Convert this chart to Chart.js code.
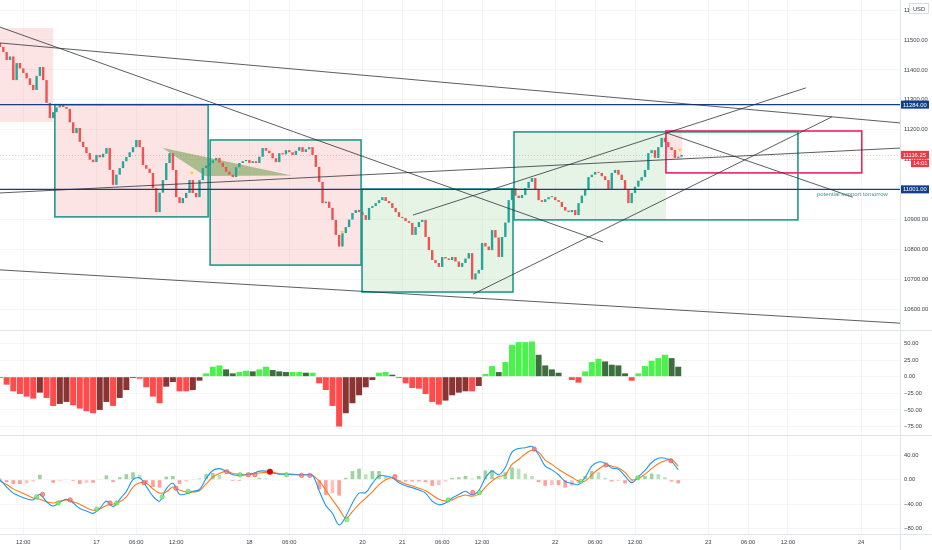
<!DOCTYPE html>
<html lang="en">
  <head>
    <meta charset="UTF-8" />
    <title>NQ 30m</title>
    <script src="https://cdn.jsdelivr.net/npm/chart.js@4.4.1/dist/chart.umd.min.js"></script>
    <style>
      html, body { margin: 0; padding: 0; background: #fff; }
      #wrap { position: relative; width: 932px; height: 550px; overflow: hidden; }
      .pane { position: absolute; left: 0; width: 932px; }
    </style>
  </head>
  <body>
    <div id="wrap">
      <div class="pane" style="top:0;height:331px"><canvas id="priceChart"></canvas></div>
      <div class="pane" style="top:331px;height:105px"><canvas id="momChart"></canvas></div>
      <div class="pane" style="top:436px;height:114px"><canvas id="macdChart"></canvas></div>
    </div>

    <script>
      // time axis: one slot per 30 min candle
      const tickIdx = [7, 29, 41, 53, 75, 87, 109, 121, 133, 145, 167, 179, 191, 213, 225, 237, 259];
      const tickLbl = ["12:00", "17", "06:00", "12:00", "18", "06:00", "20", "21", "06:00", "12:00", "22", "06:00", "12:00", "23", "06:00", "12:00", "24"];

      const priceTicks = [10600, 10700, 10800, 10900, 11000, 11100, 11200, 11300, 11400, 11500, 11600];
      const momTicks = [-75, -50, -25, 0, 25, 50];
      const macdTicks = [-80, -40, 0, 40];

      // candle closes (open = previous close)
      const firstOpen = 11490;
      const closes = [
        11477, 11460, 11433, 11445, 11366, 11423, 11405, 11390, 11372, 11350,
        11333, 11380, 11410, 11366, 11290, 11239, 11259, 11275, 11283, 11276,
        11270, 11225, 11189, 11206, 11160, 11142, 11122, 11100, 11092, 11116,
        11108, 11120, 11139, 11066, 11016, 11050, 11072, 11095, 11109, 11125,
        11142, 11166, 11142, 11082, 11070, 11056, 11005, 10925, 10990, 11032,
        11089, 11122, 11066, 10975, 10955, 10972, 10989, 11032, 10989, 10975,
        11032, 11072, 11080, 11089, 11098, 11106, 11090, 11076, 11060, 11050,
        11042, 11075, 11089, 11095, 11099, 11089, 11095, 11089, 11110, 11139,
        11130, 11122, 11105, 11092, 11122, 11118, 11132, 11125, 11116, 11130,
        11142, 11126, 11135, 11142, 11116, 11076, 11026, 10955, 10960, 10939,
        10899, 10849, 10810, 10855, 10875, 10900, 10922, 10932, 10925, 10915,
        10899, 10939, 10945, 10955, 10965, 10975, 10962, 10955, 10939, 10925,
        10909, 10905, 10895, 10889, 10849, 10875, 10892, 10899, 10842, 10798,
        10765, 10755, 10742, 10775, 10770, 10765, 10775, 10760, 10742, 10755,
        10770, 10788, 10700, 10720, 10732, 10822, 10810, 10798, 10865, 10840,
        10775, 10842, 10890, 10965, 11005, 10980, 10972, 10982, 11005, 11026,
        11039, 10999, 10965, 10959, 10968, 10975, 10975, 10965, 10959, 10942,
        10930, 10925, 10932, 10915, 10955, 10980, 10999, 11042, 11050, 11059,
        11056, 11045, 11032, 10999, 11056, 11066, 11050, 11032, 10999, 10955,
        10989, 11010, 11030, 11042, 11066, 11122, 11132, 11106, 11142, 11173,
        11159, 11142, 11132, 11106, 11110, 11116.25,
      ];
      const lastTime = "14:01";

      // small yellow signal markers on price
      const markX = [57.7, 102.9, 204.5];
      const markP = [11056, 10858, 11133];

      // shaded zones [from, to] in candle slots, [top, bottom] in price
      const zoneFrom = [-2, 16.5, 63.2, 108.9, 154.6, 200.3];
      const zoneTo = [16, 62.6, 108.6, 154.3, 200.3, 205.2];
      const zoneTop = [11540, 11284, 11166, 11002, 11193, 11196];
      const zoneBottom = [11226, 10909, 10748, 10658, 10899, 11099];
      const zoneKind = ["sell", "sell", "sell", "buy", "buy", "sell"];

      // outlined boxes
      const frameFrom = [16.5, 63.2, 108.9, 154.6, 200.3];
      const frameTo = [62.6, 108.6, 154.3, 240.0, 259.2];
      const frameTop = [11284, 11166, 11002, 11193, 11196];
      const frameBottom = [10909, 10748, 10658, 10899, 11056];
      const frameKind = ["range", "range", "range", "range", "target"];

      // trend lines
      const lineX1 = [0, 0, 0, 0, 124.2, 142.3, 200.6];
      const lineP1 = [11490, 11543, 10732, 10989, 10915, 10651, 11189];
      const lineX2 = [270.7, 181.4, 270.7, 270.7, 242.4, 250.2, 256.5];
      const lineP2 = [11223, 10825, 10554, 11139, 11340, 11243, 10975];

      // triangle pattern
      const triX = [48.8, 87.8, 61.7];
      const triP = [11140, 11047, 11046];

      const levels = [11284, 11001];
      const noteText = "potential support tomorrow";
      const noteX = 245.7;
      const noteP = 10985;

      // squeeze momentum, every 2nd candle
      const momX = Array.from({ length: 103 }, (_, k) => k * 2);
      const momVals = [
        -2, -12, -22, -26, -30, -33, -24, -32, -44, -41,
        -38, -43, -48, -52, -55, -50, -38, -44, -32, -20,
        -2, -3, -16, -30, -40, -15, -8, -22, -22, -20,
        -6, 5, 15, 17, 11, 5, 7, 9, 8, 11,
        15, 10, 8, 7, 7, 7, 6, 6, -10, -20,
        -44, -75, -55, -40, -28, -16, -5, 6, 7, 3,
        -2, -10, -17, -18, -26, -38, -42, -36, -28, -24,
        -22, -22, -14, 4, 16, 7, 22, 48, 52, 52,
        53, 33, 17, 11, 6, 0, -5, -9, 8, 22,
        27, 23, 18, 17, 5, -6, 5, 16, 24, 28,
        33, 28, 15,
      ];

      // MACD, every 2nd candle
      const macdLine = [
        0, -12, -22, -27, -31, -33, -24, -36, -43, -37,
        -32, -38, -47, -51, -55, -47, -35, -44, -32, -19,
        0, 3, -11, -27, -35, -15, -6, -24, -23, -19,
        -16, 2, 15, 18, 14, 8, 7, 8, 10, 14,
        14, 11, 9, 9, 8, 8, 8, 7, -18, -42,
        -55, -74, -60, -38, -22, -21, -6, 6, 6, 3,
        -5, -10, -13, -17, -22, -35, -41, -38, -30, -24,
        -19, -25, -18, 3, 14, 8, 20, 45, 51, 52,
        54, 41, 22, 16, 8, -3, -6, -8, 4, 22,
        29, 27, 19, 17, 6, -5, 5, 15, 28, 35,
        35, 30, 16,
      ];
      const signalLine = [
        -2, -8, -15, -20, -25, -30, -32, -36, -38, -35,
        -33, -36, -40, -46, -50, -48, -42, -40, -36, -28,
        -12, -5, -6, -15, -22, -20, -12, -17, -20, -20,
        -18, -7, 4, 10, 14, 10, 9, 8, 9, 11,
        12, 12, 10, 9, 9, 8, 8, 7, -2, -17,
        -33, -48, -63, -52, -40, -30, -20, -8, 0, 3,
        -2, -7, -10, -14, -18, -25, -32, -35, -33, -28,
        -25, -27, -24, -12, -2, 5, 8, 25, 33, 42,
        48, 45, 32, 25, 17, 10, 4, -2, -2, 8,
        17, 24, 22, 19, 12, 0, 2, 9, 18, 26,
        31, 33, 22,
      ];
      const macdHist = [
        2, -4, -7, -7, -6, -3, 8, 0, -5, -2,
        1, -2, -7, -5, -5, 1, 7, -4, 4, 9,
        12, 8, -5, -12, -13, 5, 6, -7, -3, 1,
        2, 9, 11, 8, 0, -2, -2, 0, 1, 3,
        2, -1, -1, 0, -1, 0, 0, 0, -16, -25,
        -22, -26, 3, 14, 18, 9, 14, 14, 6, 0,
        -3, -3, -3, -3, -4, -10, -9, -3, 3, 4,
        6, 2, 6, 15, 16, 3, 12, 20, 18, 10,
        6, -4, -10, -9, -9, -13, -10, -6, 6, 14,
        12, 3, -3, -2, -6, -5, 3, 6, 10, 9,
        4, -3, -6,
      ];
      // crossover dots
      const upX = [11.0, 17.5, 29.1, 35.1, 48.8, 56.6, 72.2, 86.2, 104.3, 134.8, 144.2, 174.7, 191.8];
      const upY = [-28, -38, -48, -38, -28, -19, 8, 8, -65, -33, -21, -3, 3];
      const dnX = [12.8, 21.1, 33.1, 43.3, 52.9, 68.2, 74.7, 76.7, 90.7, 93.2, 118.8, 142.2, 160.7, 182.3, 201.8];
      const dnY = [-24, -33, -38, -5, -14, 13, 8, 8, 7, 7, 5, -21, 50, 24, 31];
      const bigX = [81.2];
      const bigY = [13];

      // ---------- styling ----------
      const FONT = "'Liberation Sans', Arial, sans-serif";
      Chart.defaults.animation = false;
      Chart.defaults.font.family = FONT;
      Chart.defaults.font.size = 5.8;
      Chart.defaults.color = "#3a3e4a";
      Chart.defaults.plugins.legend.display = false;
      Chart.defaults.plugins.tooltip.enabled = false;
      Chart.defaults.layout.autoPadding = false;

      const UP = "#26a69a";
      const DOWN = "#ef5350";
      const GRID = "rgba(42,46,57,0.045)";
      const SEP = "#e0e3eb";
      const NAVY = "#123f8c";
      const X_MAX = 270.7;

      function fmt(v) {
        return (v < 0 ? "\u2212" : "") + Math.abs(v).toFixed(2);
      }

      function xAxis(showLabels) {
        return {
          type: "linear",
          min: 0,
          max: X_MAX,
          offset: false,
          grid: { color: GRID, drawTicks: false, offset: false },
          border: { display: false },
          ticks: {
            display: showLabels,
            autoSkip: false,
            maxRotation: 0,
            padding: 4,
            color: "#3a3e4a",
            callback: (v) => {
              const k = tickIdx.indexOf(v);
              return k < 0 ? "" : tickLbl[k];
            },
          },
          afterBuildTicks: (s) => {
            s.ticks = tickIdx.map((v) => ({ value: v }));
          },
          afterFit: (s) => {
            s.height = showLabels ? 15 : 0;
            s.paddingLeft = 0;
            s.paddingRight = 0;
          },
        };
      }

      function yAxis(min, max, ticks) {
        return {
          position: "right",
          min: min,
          max: max,
          grid: { color: GRID, drawTicks: false },
          border: { display: false },
          ticks: { padding: 4, callback: (v) => fmt(v) },
          afterBuildTicks: (s) => {
            s.ticks = ticks.map((v) => ({ value: v }));
          },
          afterFit: (s) => {
            s.width = 32;
            s.paddingTop = 0;
            s.paddingBottom = 0;
          },
        };
      }

      // pane borders
      const frameLines = {
        id: "frameLines",
        afterDraw(chart) {
          const { ctx, chartArea: a, width, height } = chart;
          ctx.save();
          ctx.strokeStyle = SEP;
          ctx.lineWidth = 1;
          ctx.beginPath();
          ctx.moveTo(0, Math.round(a.bottom) - 0.5);
          ctx.lineTo(width, Math.round(a.bottom) - 0.5);
          ctx.moveTo(Math.round(a.right) + 0.5, 0);
          ctx.lineTo(Math.round(a.right) + 0.5, height);
          ctx.stroke();
          ctx.restore();
        },
      };

      function tag(ctx, x, y, w, h, bg, text) {
        ctx.fillStyle = bg;
        ctx.fillRect(x, y - h / 2, w, h);
        ctx.fillStyle = "#fff";
        ctx.font = "5.8px " + FONT;
        ctx.textBaseline = "middle";
        ctx.textAlign = "left";
        ctx.fillText(text, x + 2, y + 0.5);
      }

      // chart drawings on the price pane
      const drawings = {
        id: "drawings",
        beforeDatasetsDraw(chart) {
          const { ctx, chartArea: a, scales } = chart;
          const x = scales.x, y = scales.y;
          ctx.save();
          ctx.beginPath();
          ctx.rect(a.left, a.top, a.width, a.height);
          ctx.clip();
          zoneFrom.forEach((f, k) => {
            const x1 = x.getPixelForValue(f);
            const x2 = x.getPixelForValue(zoneTo[k]);
            const y1 = y.getPixelForValue(zoneTop[k]);
            const y2 = y.getPixelForValue(zoneBottom[k]);
            ctx.fillStyle = zoneKind[k] === "buy" ? "rgba(76,175,80,0.14)" : "rgba(245,110,110,0.19)";
            ctx.fillRect(x1, y1, x2 - x1, y2 - y1);
          });
          // triangle
          ctx.beginPath();
          triX.forEach((t, k) => {
            const px = x.getPixelForValue(t);
            const py = y.getPixelForValue(triP[k]);
            if (k === 0) ctx.moveTo(px, py);
            else ctx.lineTo(px, py);
          });
          ctx.closePath();
          ctx.fillStyle = "rgba(90,150,60,0.5)";
          ctx.fill();
          ctx.restore();
        },
        afterDatasetsDraw(chart) {
          const { ctx, chartArea: a, scales } = chart;
          const x = scales.x, y = scales.y;
          ctx.save();
          ctx.beginPath();
          ctx.rect(a.left, a.top, a.width, a.height);
          ctx.clip();

          // current price line
          const cy = Math.round(y.getPixelForValue(closes[closes.length - 1])) + 0.5;
          ctx.strokeStyle = "rgba(242,54,69,0.3)";
          ctx.lineWidth = 1;
          ctx.setLineDash([1, 2]);
          ctx.beginPath();
          ctx.moveTo(a.left, cy);
          ctx.lineTo(a.right, cy);
          ctx.stroke();
          ctx.setLineDash([]);

          // boxes
          frameFrom.forEach((f, k) => {
            const x1 = x.getPixelForValue(f);
            const x2 = x.getPixelForValue(frameTo[k]);
            const y1 = y.getPixelForValue(frameTop[k]);
            const y2 = y.getPixelForValue(frameBottom[k]);
            ctx.strokeStyle = frameKind[k] === "target" ? "#e8255e" : "#1f9b8c";
            ctx.lineWidth = 1.6;
            ctx.strokeRect(x1, y1, x2 - x1, y2 - y1);
          });

          // levels
          levels.forEach((p) => {
            const py = y.getPixelForValue(p);
            ctx.strokeStyle = NAVY;
            ctx.lineWidth = 1.4;
            ctx.beginPath();
            ctx.moveTo(a.left, py);
            ctx.lineTo(a.right, py);
            ctx.stroke();
          });

          // trend lines
          ctx.strokeStyle = "rgba(40,42,50,0.85)";
          ctx.lineWidth = 0.9;
          lineX1.forEach((v, k) => {
            ctx.beginPath();
            ctx.moveTo(x.getPixelForValue(v), y.getPixelForValue(lineP1[k]));
            ctx.lineTo(x.getPixelForValue(lineX2[k]), y.getPixelForValue(lineP2[k]));
            ctx.stroke();
          });

          // note
          ctx.fillStyle = "#2a9d8f";
          ctx.font = "6px " + FONT;
          ctx.textBaseline = "middle";
          ctx.textAlign = "left";
          ctx.fillText(noteText, x.getPixelForValue(noteX), y.getPixelForValue(noteP));
          ctx.restore();
        },
        afterDraw(chart) {
          const { ctx, chartArea: a, scales } = chart;
          const y = scales.y;
          const ax = Math.round(a.right) + 1;
          ctx.save();
          levels.forEach((p) => tag(ctx, ax, y.getPixelForValue(p), 28, 8, NAVY, p.toFixed(2)));
          const last = closes[closes.length - 1];
          const ly = y.getPixelForValue(last);
          tag(ctx, ax, ly, 28, 8, "#f23645", last.toFixed(2));
          tag(ctx, ax + 10, ly + 8.5, 18, 7.5, "#f23645", lastTime);
          // currency box
          ctx.fillStyle = "#fff";
          ctx.fillRect(ax + 8, 3, 20, 11);
          ctx.strokeStyle = "#d1d4dc";
          ctx.lineWidth = 0.8;
          ctx.strokeRect(ax + 8.5, 3.5, 19, 10);
          ctx.fillStyle = "#3a3e4a";
          ctx.font = "5.8px " + FONT;
          ctx.textAlign = "center";
          ctx.textBaseline = "middle";
          ctx.fillText("USD", ax + 18, 9);
          ctx.restore();
        },
      };

      // ---------- price pane ----------
      const candleData = closes.map((c, i) => ({ x: i, y: [i ? closes[i - 1] : firstOpen, c] }));
      const candleColor = (ctx) => {
        const d = ctx.raw;
        return d && d.y[1] >= d.y[0] ? UP : DOWN;
      };

      new Chart(document.getElementById("priceChart"), {
        type: "bar",
        data: {
          datasets: [
            {
              data: candleData,
              backgroundColor: candleColor,
              borderWidth: 0,
              barPercentage: 0.72,
              categoryPercentage: 1,
              minBarLength: 1,
              order: 2,
            },
            {
              type: "line",
              data: markX.map((v, k) => ({ x: v, y: markP[k] })),
              showLine: false,
              pointStyle: "triangle",
              rotation: 180,
              pointRadius: 2.2,
              pointBackgroundColor: "#f7d21e",
              pointBorderWidth: 0,
              order: 1,
            },
          ],
        },
        options: {
          responsive: true,
          maintainAspectRatio: false,
          layout: { padding: 0, autoPadding: false },
          scales: {
            x: xAxis(false),
            y: yAxis(10527.8, 11633.6, priceTicks),
          },
        },
        plugins: [drawings, frameLines],
      });

      // ---------- momentum pane ----------
      const momColors = momVals.map((v, k) => {
        const prev = k ? momVals[k - 1] : v;
        if (v >= 0) return v >= prev ? "#4cf24c" : "#3d6e3d";
        return v <= prev ? "#ff4b4b" : "#8a3434";
      });

      new Chart(document.getElementById("momChart"), {
        type: "bar",
        data: {
          datasets: [
            {
              data: momX.map((v, k) => ({ x: v, y: momVals[k] })),
              backgroundColor: momColors,
              borderWidth: 0,
              barPercentage: 0.9,
              categoryPercentage: 1,
            },
          ],
        },
        options: {
          responsive: true,
          maintainAspectRatio: false,
          layout: { padding: 0, autoPadding: false },
          scales: {
            x: xAxis(false),
            y: yAxis(-89.3, 68.8, momTicks),
          },
        },
        plugins: [frameLines],
      });

      // ---------- MACD pane ----------
      const histColors = macdHist.map((v, k) => {
        const prev = k ? macdHist[k - 1] : v;
        if (v >= 0) return v >= prev ? "rgba(76,175,80,0.55)" : "rgba(76,175,80,0.38)";
        return v <= prev ? "rgba(244,67,54,0.5)" : "rgba(244,67,54,0.32)";
      });

      new Chart(document.getElementById("macdChart"), {
        type: "bar",
        data: {
          datasets: [
            {
              data: momX.map((v, k) => ({ x: v, y: macdHist[k] })),
              backgroundColor: histColors,
              borderWidth: 0,
              barPercentage: 0.55,
              categoryPercentage: 1,
              order: 4,
            },
            {
              type: "line",
              data: momX.map((v, k) => ({ x: v, y: signalLine[k] })),
              borderColor: "#ff7a1a",
              borderWidth: 1.1,
              pointRadius: 0,
              tension: 0.35,
              order: 3,
            },
            {
              type: "line",
              data: momX.map((v, k) => ({ x: v, y: macdLine[k] })),
              borderColor: "#2196f3",
              borderWidth: 1.1,
              pointRadius: 0,
              tension: 0.35,
              order: 2,
            },
            {
              type: "line",
              data: upX.map((v, k) => ({ x: v, y: upY[k] })),
              showLine: false,
              pointRadius: 2.2,
              pointBackgroundColor: "rgba(110,240,110,0.8)",
              pointBorderColor: "rgba(70,200,70,0.9)",
              pointBorderWidth: 0.6,
              order: 1,
            },
            {
              type: "line",
              data: dnX.map((v, k) => ({ x: v, y: dnY[k] })),
              showLine: false,
              pointRadius: 2.2,
              pointBackgroundColor: "rgba(240,120,120,0.75)",
              pointBorderColor: "rgba(225,80,80,0.9)",
              pointBorderWidth: 0.6,
              order: 1,
            },
            {
              type: "line",
              data: bigX.map((v, k) => ({ x: v, y: bigY[k] })),
              showLine: false,
              pointRadius: 3,
              pointBackgroundColor: "#f00000",
              pointBorderWidth: 0,
              order: 0,
            },
          ],
        },
        options: {
          responsive: true,
          maintainAspectRatio: false,
          layout: { padding: 0, autoPadding: false },
          scales: {
            x: xAxis(true),
            y: yAxis(-90.3, 71.3, macdTicks),
          },
        },
        plugins: [frameLines],
      });
    </script>
  </body>
</html>
